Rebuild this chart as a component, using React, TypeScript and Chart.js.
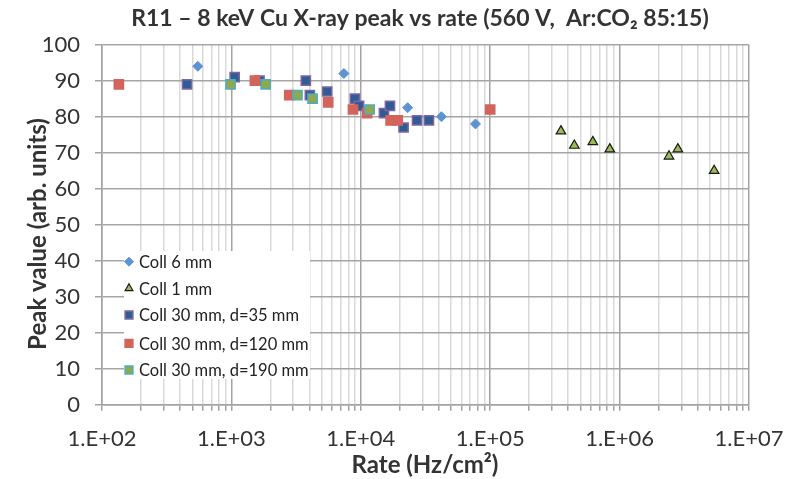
import React, { useEffect, useRef } from "react";
import { Chart, registerables } from "chart.js";
import { drawPoint } from "chart.js/helpers";

Chart.register(...registerables);

// ---- Data ----
const coll6X = [550, 7400, 23000, 42000, 77000];
const coll6Y = [94, 92, 82.5, 80, 78];

const coll1X = [352000, 447000, 621000, 840000, 2410000, 2820000, 5380000];
const coll1Y = [76, 72, 73, 71, 69, 71, 65];

const d35X = [454, 1060, 1650, 3760, 4040, 5500, 9000, 9700, 15100, 16800, 21400, 27200, 33600];
const d35Y = [89, 91, 90, 90, 86, 87, 85, 83, 81, 83, 77, 79, 79];

const d120X = [135, 1520, 2800, 5600, 8700, 11200, 17000, 19300, 100000];
const d120Y = [89, 90, 86, 84, 82, 81, 79, 79, 82];

const d190X = [985, 1840, 3240, 4240, 11700];
const d190Y = [89, 89, 86, 85, 82];

const seriesNames = [
  "Coll 6 mm",
  "Coll 1 mm",
  "Coll 30 mm, d=35 mm",
  "Coll 30 mm, d=120 mm",
  "Coll 30 mm, d=190 mm",
];

const xExponents = [2, 3, 4, 5, 6, 7];
const yTicks = [0, 10, 20, 30, 40, 50, 60, 70, 80, 90, 100];

const titleText = "R11 – 8 keV Cu X-ray peak vs rate (560 V,  Ar:CO₂ 85:15)";
const xTitle = "Rate (Hz/cm²)";
const yTitle = "Peak value (arb. units)";

const FONT = "Lato, 'Open Sans', 'Liberation Sans', sans-serif";

const zip = (xs: number[], ys: number[]) => xs.map((x, i) => ({ x, y: ys[i] }));

const styles = [
  { pointStyle: "rectRot", radius: 5, bg: "#5B93D3", border: "#5B93D3", bw: 1 },
  { pointStyle: "triangle", radius: 5.5, bg: "#9BBB59", border: "#1a1a1a", bw: 1.2 },
  { pointStyle: "rect", radius: 6.5, bg: "#2E5C94", border: "#8064A2", bw: 1.5 },
  { pointStyle: "rect", radius: 6.5, bg: "#D3645C", border: "#D3645C", bw: 1.5 },
  { pointStyle: "rect", radius: 6.5, bg: "#8FAA4C", border: "#4BACC6", bw: 1.5 },
];

const overlayPlugin = {
  id: "overlay",
  afterDatasetsDraw(chart: any) {
    const ctx = chart.ctx;
    ctx.save();
    // legend box
    ctx.fillStyle = "#ffffff";
    ctx.fillRect(124, 251, 186, 128);
    const rows = [261.7, 288.3, 315, 343.3, 370];
    ctx.font = `16.5px ${FONT}`;
    ctx.textBaseline = "middle";
    ctx.textAlign = "left";
    rows.forEach((ry, i) => {
      const s = styles[i];
      ctx.fillStyle = s.bg;
      ctx.strokeStyle = s.border;
      ctx.lineWidth = s.bw;
      const r = s.pointStyle === "rect" ? 5.5 : 4.5;
      drawPoint(ctx, { pointStyle: s.pointStyle, radius: r, borderWidth: s.bw, rotation: 0 }, 129, ry);
      ctx.fillStyle = "#222222";
      ctx.fillText(seriesNames[i], 139, ry + 1);
    });
    ctx.restore();
  },
  afterDraw(chart: any) {
    const ctx = chart.ctx;
    ctx.save();
    ctx.fillStyle = "#333333";
    ctx.textAlign = "center";
    ctx.textBaseline = "middle";
    ctx.font = `bold 23px ${FONT}`;
    ctx.fillText(titleText, 420, 19);
    ctx.font = `bold 24px ${FONT}`;
    ctx.fillText(xTitle, 425, 465);
    ctx.translate(38, 234);
    ctx.rotate(-Math.PI / 2);
    ctx.fillText(yTitle, 0, 0);
    ctx.restore();
  },
};

export default function App() {
  const ref = useRef<HTMLCanvasElement | null>(null);
  useEffect(() => {
    if (!ref.current) return;
    const datasets = [
      { data: zip(coll6X, coll6Y), order: 5 },
      { data: zip(coll1X, coll1Y), order: 4 },
      { data: zip(d35X, d35Y), order: 3 },
      { data: zip(d120X, d120Y), order: 2 },
      { data: zip(d190X, d190Y), order: 1 },
    ].map((d, i) => ({
      label: seriesNames[i],
      data: d.data,
      order: d.order,
      pointStyle: styles[i].pointStyle,
      pointRadius: styles[i].radius,
      pointBackgroundColor: styles[i].bg,
      pointBorderColor: styles[i].border,
      pointBorderWidth: styles[i].bw,
      showLine: false,
    }));

    const xTickValues: number[] = [];
    xExponents.forEach((e) => {
      if (e === 7) {
        xTickValues.push(Math.pow(10, e));
        return;
      }
      for (let m = 1; m <= 9; m++) xTickValues.push(m * Math.pow(10, e));
    });
    const isMajor = (v: number) => {
      const l = Math.log10(v);
      return Math.abs(l - Math.round(l)) < 1e-9;
    };

    const chart = new Chart(ref.current, {
      type: "scatter",
      data: { datasets: datasets as any },
      plugins: [overlayPlugin],
      options: {
        animation: false,
        responsive: false,
        maintainAspectRatio: false,
        layout: { padding: { left: 0, right: 43, top: 44.7, bottom: 0 } },
        plugins: {
          legend: { display: false },
          title: { display: false },
          tooltip: { enabled: false },
        },
        scales: {
          x: {
            type: "logarithmic",
            min: 100,
            max: 1e7,
            afterBuildTicks: (scale: any) => {
              scale.ticks = xTickValues.map((v) => ({ value: v, major: isMajor(v) }));
            },
            afterFit: (scale: any) => {
              scale.height = 74.3;
              scale.paddingLeft = 0;
              scale.paddingRight = 0;
            },
            ticks: {
              autoSkip: false,
              maxRotation: 0,
              minRotation: 0,
              padding: 15,
              color: "#333333",
              font: { family: FONT, size: 22 },
              callback: (v: any) => {
                const n = Number(v);
                if (!isMajor(n)) return "";
                return "1.E+" + String(Math.round(Math.log10(n))).padStart(2, "0");
              },
            },
            grid: {
              color: (c: any) => (c.tick && isMajor(c.tick.value) ? "#a3a3a3" : "#d9d9d9"),
              lineWidth: 1.5,
              tickColor: "#a3a3a3",
              tickLength: 6,
              drawTicks: true,
            },
            border: { color: "#a3a3a3", width: 1.5 },
          },
          y: {
            min: 0,
            max: 100,
            afterBuildTicks: (scale: any) => {
              scale.ticks = yTicks.map((v) => ({ value: v }));
            },
            afterFit: (scale: any) => {
              scale.width = 102;
              scale.paddingTop = 0;
              scale.paddingBottom = 0;
            },
            ticks: {
              padding: 15,
              color: "#333333",
              font: { family: FONT, size: 22 },
            },
            grid: {
              color: "#a6a6a6",
              lineWidth: 1.5,
              tickColor: "#a3a3a3",
              tickLength: 7,
            },
            border: { color: "#a3a3a3", width: 1.5 },
          },
        },
      } as any,
    });
    return () => chart.destroy();
  }, []);
  return (
    <div style={{ position: "fixed", left: 0, top: 0, width: 792, height: 479 }}>
      <canvas ref={ref} width={792} height={479} style={{ width: 792, height: 479, display: "block" }} />
    </div>
  );
}
